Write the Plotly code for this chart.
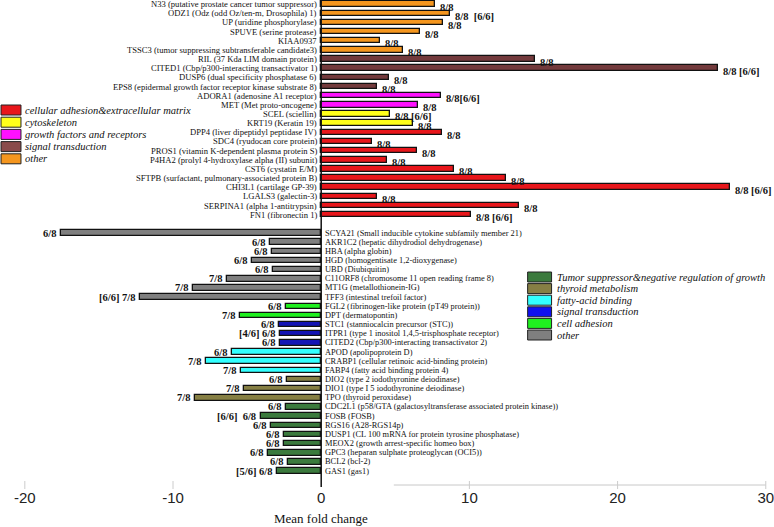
import plotly.graph_objects as go

# ---------------- data ----------------
up_genes = [
    "N33 (putative prostate cancer tumor suppressor)",
    "ODZ1 (Odz (odd Oz/ten-m, Drosophila) 1)",
    "UP (uridine phosphorylase)",
    "SPUVE (serine protease)",
    "KIAA0937",
    "TSSC3 (tumor suppressing subtransferable candidate3)",
    "RIL (37 Kda LIM domain protein)",
    "CITED1 (Cbp/p300-interacting transactivator 1)",
    "DUSP6 (dual specificity phosphatase 6)",
    "EPS8 (epidermal growth factor receptor kinase substrate 8)",
    "ADORA1 (adenosine A1 receptor)",
    "MET (Met proto-oncogene)",
    "SCEL (sciellin)",
    "KRT19 (Keratin 19)",
    "DPP4 (liver dipeptidyl peptidase IV)",
    "SDC4 (ryudocan core protein)",
    "PROS1 (vitamin K-dependent plasma protein S)",
    "P4HA2 (prolyl 4-hydroxylase alpha (II) subunit)",
    "CST6 (cystatin E/M)",
    "SFTPB (surfactant, pulmonary-associated protein B)",
    "CHI3L1 (cartilage GP-39)",
    "LGALS3 (galectin-3)",
    "SERPINA1 (alpha 1-antitrypsin)",
    "FN1 (fibronectin 1)",
]
up_values = [7.65, 8.66, 8.25, 6.66, 3.95, 5.54, 14.4, 26.8, 4.58, 3.75, 8.08, 6.55,
             4.64, 6.21, 8.12, 3.43, 6.44, 4.46, 8.95, 12.45, 27.6, 3.75, 13.35, 10.14]
up_counts = ["8/8", "8/8  [6/6]", "8/8", "8/8", "8/8", "8/8", "8/8", "8/8 [6/6]", "8/8", "8/8",
             "8/8[6/6]", "8/8", "8/8 [6/6]", "8/8", "8/8", "8/8", "8/8", "8/8", "8/8", "8/8",
             "8/8 [6/6]", "8/8", "8/8", "8/8 [6/6]"]
up_groups = ["other"] * 6 + ["signal transduction"] * 4 + ["growth factors and receptors"] * 2 + \
            ["cytoskeleton"] * 2 + ["cellular adhesion&extracellular matrix"] * 10

down_genes = [
    "SCYA21 (Small inducible cytokine subfamily member 21)",
    "AKR1C2 (hepatic dihydrodiol dehydrogenase)",
    "HBA (alpha globin)",
    "HGD (homogentisate 1,2-dioxygenase)",
    "UBD (Diubiquitin)",
    "C11ORF8 (chromosome 11 open reading frame 8)",
    "MT1G (metallothionein-IG)",
    "TFF3 (intestinal trefoil factor)",
    "FGL2 (fibrinogen-like protein (pT49 protein))",
    "DPT (dermatopontin)",
    "STC1 (stanniocalcin precursor (STC))",
    "ITPR1 (type 1 inositol 1,4,5-trisphosphate receptor)",
    "CITED2 (Cbp/p300-interacting transactivator 2)",
    "APOD (apolipoprotein D)",
    "CRABP1 (cellular retinoic acid-binding protein)",
    "FABP4 (fatty acid binding protein 4)",
    "DIO2 (type 2 iodothyronine deiodinase)",
    "DIO1 (type I 5 iodothyronine deiodinase)",
    "TPO (thyroid peroxidase)",
    "CDC2L1 (p58/GTA (galactosyltransferase associated protein kinase))",
    "FOSB (FOSB)",
    "RGS16 (A28-RGS14p)",
    "DUSP1 (CL 100 mRNA for protein tyrosine phosphatase)",
    "MEOX2 (growth arrest-specific homeo box)",
    "GPC3 (heparan sulphate proteoglycan (OCI5))",
    "BCL2 (bcl-2)",
    "GAS1 (gas1)",
]
down_values = [-17.56, -3.45, -3.34, -4.66, -3.27, -6.35, -8.66, -12.25, -2.38, -5.47,
               -2.87, -2.78, -2.78, -6.03, -7.76, -5.40, -2.33, -5.18, -8.55, -2.38,
               -4.06, -3.39, -2.49, -2.49, -3.57, -2.27, -2.98]
down_counts = ["6/8", "6/8", "6/8", "6/8", "6/8", "7/8", "7/8", "[6/6] 7/8", "6/8", "7/8",
               "6/8", "[4/6] 6/8", "6/8", "6/8", "7/8", "7/8", "6/8", "7/8", "7/8", "6/8",
               "[6/6]  6/8", "6/8", "6/8", "6/8", "6/8", "6/8", "[5/6] 6/8"]
down_groups = ["other"] * 8 + ["cell adhesion"] * 2 + ["signal transduction"] * 3 + \
              ["fatty-acid binding"] * 3 + ["thyroid metabolism"] * 3 + \
              ["Tumor suppressor&negative regulation of growth"] * 8

up_legend = ["cellular adhesion&extracellular matrix", "cytoskeleton",
             "growth factors and receptors", "signal transduction", "other"]
down_legend = ["Tumor suppressor&negative regulation of growth", "thyroid metabolism",
               "fatty-acid binding", "signal transduction", "cell adhesion", "other"]

x_ticks = [-20, -10, 0, 10, 20, 30]

# ---------------- styles ----------------
up_colors = {
    "cellular adhesion&extracellular matrix": "#e8161b",
    "cytoskeleton": "#ffff1a",
    "growth factors and receptors": "#ff10ff",
    "signal transduction": "#733a3c",
    "other": "#f5961e",
}
down_colors = {
    "Tumor suppressor&negative regulation of growth": "#3b7a3d",
    "thyroid metabolism": "#867f44",
    "fatty-acid binding": "#33ffff",
    "signal transduction": "#1414b4",
    "cell adhesion": "#1ff01f",
    "other": "#7f7f7f",
}
up_legend_colors = dict(up_colors, **{"signal transduction": "#8a4b4b"})
down_legend_colors = dict(down_colors, **{"signal transduction": "#1010f0"})

SERIF = "Liberation Serif, Times New Roman, serif"
SANS = "Liberation Sans, Arial, sans-serif"

W, H = 774, 527
ML, MR, MT, MB = 10, 4, 0, 40
PW, PH = W - ML - MR, H - MT - MB


def px(xp):
    return (xp - ML) / PW


def py(yp):
    return 1 - (yp - MT) / PH


up_rows = list(range(len(up_genes)))
down_rows = [len(up_genes) + 1 + i for i in range(len(down_genes))]

fig = go.Figure()
fig.add_trace(go.Bar(
    x=up_values + down_values,
    y=up_rows + down_rows,
    orientation="h",
    width=0.6,
    marker=dict(
        color=[up_colors[g] for g in up_groups] + [down_colors[g] for g in down_groups],
        line=dict(color="#111111", width=1.3),
    ),
    showlegend=False,
    hoverinfo="x+y",
))

ann = []
for r, g, v, c in zip(up_rows, up_genes, up_values, up_counts):
    ann.append(dict(x=0, y=r, text=g, xanchor="right", yanchor="middle", xshift=-2,
                    showarrow=False, font=dict(family=SERIF, size=8.6, color="#111")))
    ann.append(dict(x=v, y=r, text="<b>" + c + "</b>", xanchor="left", yanchor="middle",
                    xshift=3, yshift=-3, showarrow=False,
                    font=dict(family=SERIF, size=10.5, color="#111")))
for r, g, v, c in zip(down_rows, down_genes, down_values, down_counts):
    ann.append(dict(x=0, y=r, text=g, xanchor="left", yanchor="middle", xshift=2,
                    showarrow=False, font=dict(family=SERIF, size=8.4, color="#111")))
    ann.append(dict(x=v, y=r, text="<b>" + c + "</b>", xanchor="right", yanchor="middle",
                    xshift=-3, yshift=0, showarrow=False,
                    font=dict(family=SERIF, size=10.5, color="#111")))

shapes = []
# legends
for i, name in enumerate(up_legend):
    yc = 110 + i * 12.2
    shapes.append(dict(type="rect", xref="paper", yref="paper",
                       x0=px(1), x1=px(21), y0=py(yc - 5), y1=py(yc + 5),
                       fillcolor=up_legend_colors[name], line=dict(color="#222", width=1)))
    ann.append(dict(xref="paper", yref="paper", x=px(23), y=py(yc), text="<i>" + name + "</i>",
                    xanchor="left", yanchor="middle", showarrow=False,
                    font=dict(family=SERIF, size=10.5, color="#111")))
for i, name in enumerate(down_legend):
    yc = 277 + i * 11.6
    shapes.append(dict(type="rect", xref="paper", yref="paper",
                       x0=px(529), x1=px(553), y0=py(yc - 5), y1=py(yc + 5),
                       fillcolor=down_legend_colors[name], line=dict(color="#222", width=1)))
    ann.append(dict(xref="paper", yref="paper", x=px(556), y=py(yc), text="<i>" + name + "</i>",
                    xanchor="left", yanchor="middle", showarrow=False,
                    font=dict(family=SERIF, size=10.5, color="#111")))

# zero axis line, partial bottom line and light tick marks
shapes.append(dict(type="line", xref="x", yref="paper", x0=0, x1=0, y0=0, y1=1,
                   line=dict(color="#111", width=1.5)))
shapes.append(dict(type="line", xref="x", yref="paper", x0=4.9, x1=30, y0=py(485), y1=py(485),
                   line=dict(color="#c8c8c8", width=1)))
for t in x_ticks:
    if t != 0:
        shapes.append(dict(type="line", xref="x", yref="paper", x0=t, x1=t,
                           y0=py(481), y1=py(489), line=dict(color="#cccccc", width=1)))

ann.append(dict(xref="x", yref="paper", x=0, y=py(518), text="Mean fold change",
                xanchor="center", yanchor="middle", showarrow=False,
                font=dict(family=SERIF, size=13, color="#111")))

fig.update_layout(
    width=W, height=H,
    margin=dict(l=ML, r=MR, t=MT, b=MB),
    paper_bgcolor="white", plot_bgcolor="white",
    xaxis=dict(range=[-21.0, 30.15], tickvals=x_ticks, ticktext=[str(t) for t in x_ticks],
               showgrid=False, zeroline=False, showline=False, ticks="",
               ticklabeloverflow="allow",
               tickfont=dict(family=SANS, size=15, color="#222")),
    yaxis=dict(range=[52.74, -0.45], showticklabels=False, showgrid=False,
               zeroline=False, showline=False, ticks=""),
    annotations=ann,
    shapes=shapes,
    bargap=0,
)

fig.write_html("out.html",
               config={"displayModeBar": False},
               post_script="document.body.style.margin='0';document.body.style.padding='0';")
